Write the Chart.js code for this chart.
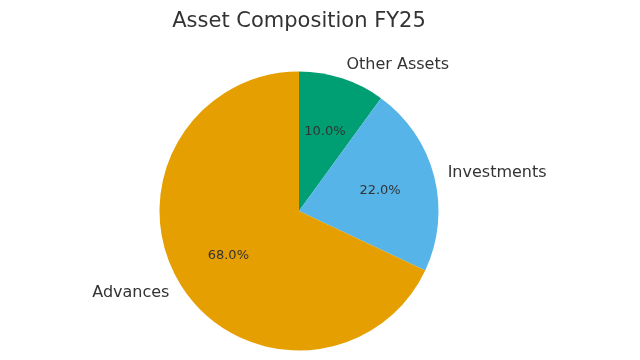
<!DOCTYPE html>
<html>
<head>
<meta charset="utf-8">
<script src="https://cdn.jsdelivr.net/npm/chart.js@4.4.0/dist/chart.umd.min.js"></script>
<style>
  html, body { margin: 0; padding: 0; background: #fff; }
  #wrap { width: 640px; height: 360px; }
</style>
</head>
<body>
<div id="wrap"><canvas id="pie" width="640" height="360"></canvas></div>
<script>
var labels = ['Other Assets', 'Investments', 'Advances'];
var shares = [10.0, 22.0, 68.0];
var colors = ['#009E73', '#56B4E9', '#E69F00'];
var titleText = 'Asset Composition FY25';

// draws the title, outside names and inside percentages like matplotlib does
var pieText = {
  id: 'pieText',
  afterDraw: function(chart) {
    var ctx = chart.ctx;
    var meta = chart.getDatasetMeta(0);
    ctx.save();
    ctx.fillStyle = '#333333';
    ctx.font = '21px "DejaVu Sans"';
    ctx.textAlign = 'center';
    ctx.textBaseline = 'middle';
    ctx.fillText(titleText, 299, 22);

    meta.data.forEach(function(arc, i) {
      var mid = (arc.startAngle + arc.endAngle) / 2;
      var r = arc.outerRadius;
      var lx = arc.x + Math.cos(mid) * r * 1.1;
      var ly = arc.y + Math.sin(mid) * r * 1.1;
      ctx.font = '16px "DejaVu Sans"';
      ctx.textAlign = Math.cos(mid) > 0 ? 'left' : 'right';
      ctx.fillText(labels[i], lx, ly);

      var px = arc.x + Math.cos(mid) * r * 0.6;
      var py = arc.y + Math.sin(mid) * r * 0.6;
      ctx.font = '13px "DejaVu Sans"';
      ctx.textAlign = 'center';
      ctx.fillText(shares[i].toFixed(1) + '%', px, py);
    });
    ctx.restore();
  }
};

new Chart(document.getElementById('pie'), {
  type: 'pie',
  data: {
    labels: labels,
    datasets: [{
      data: shares,
      backgroundColor: colors,
      borderWidth: 0
    }]
  },
  options: {
    responsive: false,
    animation: false,
    layout: { padding: { left: 159.5, right: 201.5, top: 71.5, bottom: 9.5 } },
    plugins: {
      legend: { display: false },
      title: { display: false },
      tooltip: { enabled: false }
    }
  },
  plugins: [pieText]
});
</script>
</body>
</html>
